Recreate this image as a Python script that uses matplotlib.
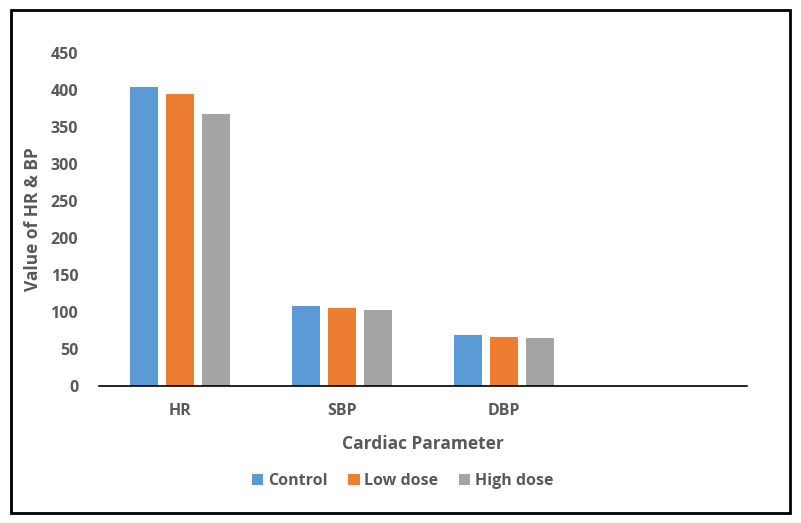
import numpy as np
import matplotlib.pyplot as plt
from matplotlib.patches import Rectangle

categories = ['HR', 'SBP', 'DBP', '']
control = [404, 108, 69, np.nan]
low_dose = [395, 105, 66, np.nan]
high_dose = [368, 103, 65, np.nan]
series_names = ['Control', 'Low dose', 'High dose']
colors = ['#5B9BD5', '#ED7D31', '#A5A5A5']
text_color = '#595959'

plt.rcParams['font.family'] = ['Open Sans', 'DejaVu Sans']

fig = plt.figure(figsize=(8.01, 5.23), dpi=100)
ax = fig.add_axes([0.1236, 0.262, 0.809, 0.637])

x = np.arange(len(categories))
w = 0.173
step = 0.222
for i, (vals, name, c) in enumerate(zip([control, low_dose, high_dose], series_names, colors)):
    ax.bar(x + (i - 1) * step, vals, width=w, color=c, label=name)

ax.set_xlim(-0.5, len(categories) - 0.5)
ax.set_ylim(0, 450)
ax.set_yticks(range(0, 451, 50))
ax.set_xticks(x)
ax.set_xticklabels(categories)

for s in ['top', 'right', 'left']:
    ax.spines[s].set_visible(False)
ax.spines['bottom'].set_color('black')
ax.spines['bottom'].set_linewidth(1.2)
ax.tick_params(axis='both', length=0, colors=text_color, labelsize=11.5)
ax.tick_params(axis='x', pad=12)
ax.tick_params(axis='y', pad=15)
for lbl in ax.get_xticklabels() + ax.get_yticklabels():
    lbl.set_fontweight('bold')

ax.set_xlabel('Cardiac Parameter', fontsize=12.5, fontweight='bold', color=text_color, labelpad=12)
ax.set_ylabel('Value of HR & BP', fontsize=12.5, fontweight='bold', color=text_color, labelpad=6)

leg = ax.legend(loc='center', bbox_to_anchor=(0.469, -0.285), ncol=3, frameon=False,
                handlelength=0.7, handleheight=0.7, handletextpad=0.3, columnspacing=1.3,
                prop={'size': 11.5, 'weight': 'bold'})
for t in leg.get_texts():
    t.set_color(text_color)

fig.patches.append(Rectangle((11 / 801, 1 - 513 / 523), 779 / 801, 503 / 523,
                             transform=fig.transFigure, fill=False, edgecolor='black', linewidth=2))

fig.savefig('out.png', dpi=100)
